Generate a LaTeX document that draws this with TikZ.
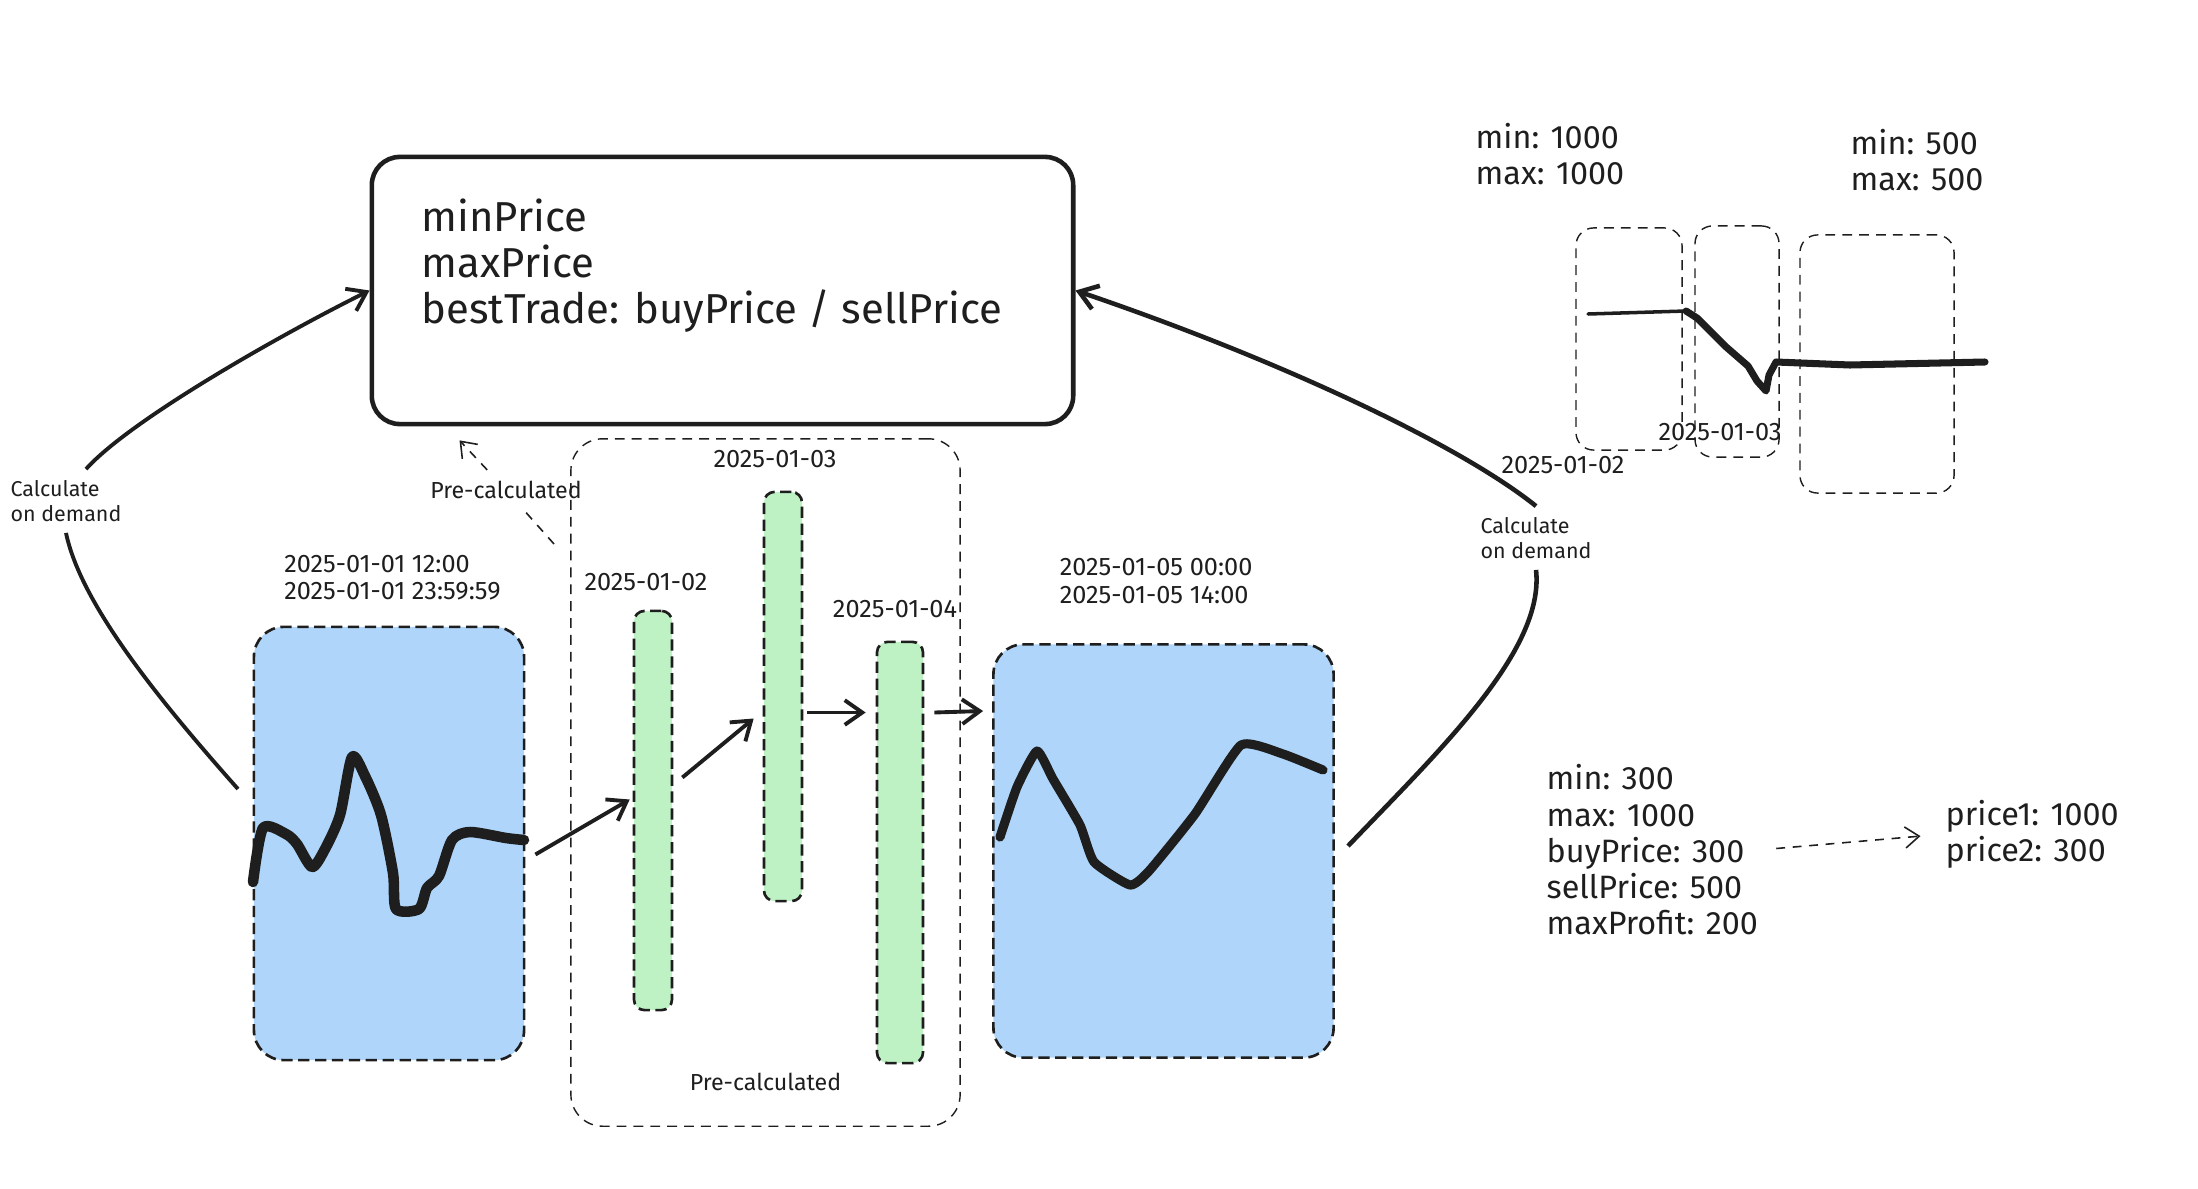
\documentclass[tikz,border=0pt]{standalone}
\usepackage{fontspec}
\setmainfont{Fira Sans}
\usetikzlibrary{positioning, arrows.meta, calc}
\definecolor{inkcolor}{HTML}{1E1E1E}
\definecolor{skycolor}{RGB}{175,214,250}
\definecolor{leafcolor}{RGB}{190,241,196}

\begin{document}
\begin{tikzpicture}[x=0.01cm, y=-0.01cm, inkcolor,
      card/.style={draw, line width=1.3pt, rounded corners=8pt, inner sep=0pt,
                   minimum width=7.01cm, minimum height=2.67cm},
      window/.style={draw, fill=skycolor, line width=0.75pt, dash pattern=on 3.2pt off 1.6pt,
                     rounded corners=8.5pt, inner sep=0pt},
      slice/.style={draw, fill=leafcolor, line width=0.75pt, dash pattern=on 3.2pt off 1.6pt,
                    rounded corners=3pt, inner sep=0pt},
      group/.style={draw, line width=0.4pt, dash pattern=on 2.8pt off 2pt,
                    rounded corners=9pt, inner sep=0pt},
      bucket/.style={draw, line width=0.4pt, dash pattern=on 2.8pt off 2pt,
                     rounded corners=5pt, inner sep=0pt},
      stamp/.style={font=\fontsize{7.2}{7.7}\selectfont, align=left, inner sep=0pt},
      remark/.style={font=\fontsize{6.1}{7.1}\selectfont, align=left, inner sep=3pt},
      precalc/.style={remark, font=\fontsize{6.6}{7.1}\selectfont},
      stat/.style={font=\fontsize{9.2}{10.3}\selectfont, align=left, inner sep=0pt, anchor=west},
      fieldtext/.style={font=\fontsize{11.9}{13.1}\selectfont, align=left, inner sep=0pt, anchor=west},
      arr/.style={-{Straight Barb[length=5pt, width=7pt]}, line width=1.1pt},
      dasharr/.style={-{Straight Barb[length=4pt, width=6pt]}, line width=0.45pt, dash pattern=on 2.5pt off 2.2pt},
      trace/.style={line width=3pt, line cap=round, line join=round}]
    \useasboundingbox (0,0) rectangle (2198,1188);

    \node[card] (main) at (722.5,290.5) {};
    \node[fieldtext] (fields) at (421,266) {minPrice\\maxPrice\\bestTrade: buyPrice / sellPrice};

    \node[group, minimum width=3.89cm, minimum height=6.87cm] (pre) at (765.5,782.5) {};
    \node[precalc, inner sep=0pt, above=0.35cm of pre.south] (prelbl) {Pre-calculated};

    \node[window, minimum width=2.70cm, minimum height=4.33cm] (d01) at (389,843.5) {};
    \node[window, minimum width=3.40cm, minimum height=4.13cm] (d05) at (1163.5,851) {};
    \node[slice, minimum width=0.38cm, minimum height=3.99cm] (d02) at (653,810.5) {};
    \node[slice, minimum width=0.38cm, minimum height=4.09cm] (d03) at (783,696.5) {};
    \node[slice, minimum width=0.46cm, minimum height=4.21cm] (d04) at (900,852.5) {};

    \node[stamp, above right=0.25cm and 0.31cm of d01.north west] (d01lbl) {2025-01-01 12:00\\2025-01-01 23:59:59};
    \node[stamp, above right=0.39cm and 0.67cm of d05.north west] (d05lbl) {2025-01-05 00:00\\2025-01-05 14:00};
    \node[stamp, above=0.18cm of d02, xshift=-0.07cm] (d02lbl) {2025-01-02};
    \node[stamp, above=0.22cm of d03, xshift=-0.08cm] (d03lbl) {2025-01-03};
    \node[stamp, above=0.22cm of d04, xshift=-0.05cm] (d04lbl) {2025-01-04};

    \draw[trace] plot[smooth, tension=0.45] coordinates {(253,882) (263,828) (286,834) (297,844)
      (312,867) (325,849) (340,815) (352,757) (365,776) (381,815) (393,873) (396,909) (419,909)
      (427,888) (439,876) (452,840) (470,832) (506,838) (524,840)};
    \draw[trace, line width=2.6pt] plot[smooth, tension=0.3] coordinates {(1000,837) (1017,787)
      (1037,751) (1053,779) (1080,825) (1094,862) (1130,885) (1149,871) (1195,814) (1241,745)
      (1283,754) (1323,770)};

    \draw[arr] ($(d01.east)+(10,11)$) -- ($(d02.west)+(-3,-11)$);
    \draw[arr] ($(d02.east)+(9,-33)$) -- ($(d03.west)+(-9,22)$);
    \draw[arr] ($(d03.east)+(4,16)$) -- ($(d04.west)+(-10,-140)$);
    \draw[arr] ($(d04.east)+(10,-140)$) -- ($(d05.west)+(-9,-140)$);

    \coordinate (lfoot) at (238,789);
    \node[remark] (lcalc) at (66,501) {Calculate\\on demand};
    \draw[line width=1.1pt] (lfoot) .. controls (150,690) and (80,600) .. (lcalc.south);
    \draw[arr] ($(lcalc.north)+(20,0)$) .. controls (130,420) and (280,335) .. (main.west);

    \coordinate (rfoot) at (1348,846);
    \node[remark] (rcalc) at (1536,538) {Calculate\\on demand};
    \draw[line width=1.3pt] (rfoot) .. controls (1440,750) and (1545,650) .. (rcalc.south);
    \draw[arr, line width=1.3pt] (rcalc.north) .. controls (1460,445) and (1280,360) .. (main.east);

    \coordinate (pcfoot) at (554,544);
    \node[precalc] (pcalc) at (506,490) {Pre-calculated};
    \draw[dasharr, -] (pcfoot) -- (pcalc);
    \draw[dasharr] (pcalc) -- ($(main.south west)+(90,14)$);

    \node[stat] (mm1000) at (1475,154) {min: 1000\\max: 1000};
    \node[stat] (mm500) at (1850,160) {min: 500\\max: 500};
    \node[bucket, minimum width=1.06cm, minimum height=2.22cm] (m02) at (1629,339) {};
    \node[bucket, minimum width=0.84cm, minimum height=2.31cm] (m03) at (1737,341.5) {};
    \node[bucket, minimum width=1.54cm, minimum height=2.58cm] (m04) at (1877,364) {};
    \draw[line width=1pt, line cap=round] (1588,314) -- (1686,311);
    \draw[trace, line width=2pt] plot coordinates {(1686,311) (1697,318) (1725,346) (1748,366)
      (1757,381) (1766,391) (1769,375) (1776,362) (1850,365) (1985,362)};
    \node[stamp] (m02lbl) at (1563,465) {2025-01-02};
    \node[stamp] (m03lbl) at (1720,432) {2025-01-03};

    \node[stat] (stats) at (1546,850) {min: 300\\max: 1000\\buyPrice: 300\\sellPrice: 500\\maxProfit: 200};
    \node[stat] (prices) at (1945,834) {price1: 1000\\price2: 300};
    \draw[dasharr, shorten <=5pt, shorten >=7pt] (stats.east) -- (prices.west);
  \end{tikzpicture}
\end{document}
